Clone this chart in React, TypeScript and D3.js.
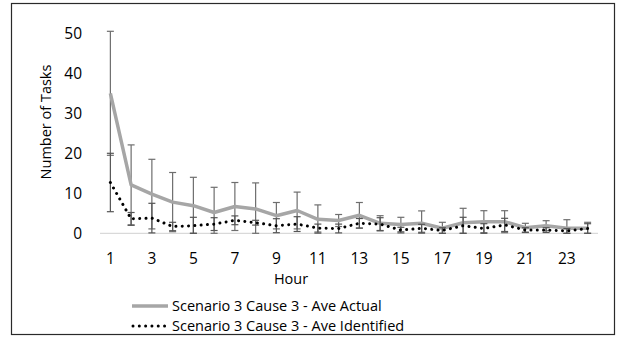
import React from "react";
import * as d3 from "d3";

// Average tasks per hour, with standard-deviation error bars
const hours: number[] = d3.range(1, 25);
const actual: number[] = [35, 12.1, 9.8, 7.8, 6.9, 5.2, 6.7, 6.1, 4.4, 5.7, 3.5, 3.2, 4.5, 2.5, 2.2, 2.5, 1.25, 2.65, 2.9, 2.9, 1.4, 1.9, 1.25, 1.25];
const actualErr: number[] = [15.5, 10, 8.7, 7.4, 7.1, 6.3, 6.0, 6.5, 3.3, 4.6, 3.6, 1.5, 3.2, 1.9, 1.8, 3.1, 1.5, 3.6, 2.75, 2.75, 1.1, 1.25, 2.15, 1.5];
const identified: number[] = [12.7, 3.6, 3.8, 1.7, 1.9, 2.3, 3.25, 2.65, 1.9, 2.3, 1.3, 1.2, 2.5, 2.3, 0.8, 1.25, 0.7, 1.9, 1.2, 2.1, 0.8, 0.8, 0.6, 1.2];
const identifiedErr: number[] = [7.3, 1.6, 3.7, 1.05, 2.1, 1.6, 1.1, 0.6, 1.75, 1.85, 1.0, 1.1, 1.2, 1.6, 0.7, 1.0, 0.7, 2.1, 1.2, 1.65, 0.6, 0.6, 0.6, 1.2];
const yTicks: number[] = [0, 10, 20, 30, 40, 50];
const xTickLabels: number[] = hours.filter((h) => h % 2 === 1);
const seriesNames: string[] = ["Scenario 3 Cause 3 - Ave Actual", "Scenario 3 Cause 3 - Ave Identified"];

const W = 617;
const H = 340;
const FONT = "'Open Sans', sans-serif";
const FS = 14.5;
const TICK_FS = 15.5;

export default function App() {
  const x = d3.scaleBand<number>().domain(hours).range([100, 598]);
  const y = d3.scaleLinear().domain([0, 50]).range([233.3, 33.3]);
  const cx = (h: number) => (x(h) as number) + x.bandwidth() / 2;

  const line = d3
    .line<number>()
    .x((_, i) => cx(hours[i]))
    .y((d) => y(d));

  const errorBars = (vals: number[], errs: number[], color: string, key: string) =>
    hours.map((h, i) => {
      const lo = Math.max(0, vals[i] - errs[i]);
      const hi = vals[i] + errs[i];
      const px = cx(h);
      return (
        <g key={key + h} stroke={color} strokeWidth={1.2}>
          <line x1={px} x2={px} y1={y(lo)} y2={y(hi)} />
          <line x1={px - 3.5} x2={px + 3.5} y1={y(hi)} y2={y(hi)} />
          <line x1={px - 3.5} x2={px + 3.5} y1={y(lo)} y2={y(lo)} />
        </g>
      );
    });

  const dotted = { strokeDasharray: "0.01 6.3", strokeLinecap: "round" as const, strokeWidth: 3 };

  return (
    <svg width={W} height={H} style={{ position: "absolute", left: 0, top: 0, background: "#fff" }} fontFamily={FONT}>
      <rect x={11.5} y={3.5} width={603} height={331} fill="#fff" stroke="#2a2a2a" strokeWidth={1.2} />

      {/* x axis line */}
      <line x1={100} x2={598} y1={y(0)} y2={y(0)} stroke="#d9d9d9" strokeWidth={1.2} />

      {/* y tick labels */}
      {yTicks.map((t) => (
        <text key={t} x={82} y={y(t)} dy="0.35em" textAnchor="end" fontSize={TICK_FS} fill="#000">
          {t}
        </text>
      ))}

      {/* x tick labels */}
      {xTickLabels.map((h) => (
        <text key={h} x={cx(h)} y={263.5} textAnchor="middle" fontSize={TICK_FS} fill="#000">
          {h}
        </text>
      ))}

      <text x={291} y={284} textAnchor="middle" fontSize={FS} fill="#000">
        Hour
      </text>
      <text transform="translate(51,122) rotate(-90)" textAnchor="middle" fontSize={FS} fill="#000">
        Number of Tasks
      </text>

      {errorBars(actual, actualErr, "#6e6e6e", "a")}
      <path d={line(actual) ?? ""} fill="none" stroke="#a6a6a6" strokeWidth={3.5} strokeLinejoin="round" />
      {errorBars(identified, identifiedErr, "#555555", "i")}
      <path d={line(identified) ?? ""} fill="none" stroke="#000" {...dotted} />

      {/* legend */}
      <line x1={132} x2={168} y1={306} y2={306} stroke="#a6a6a6" strokeWidth={3.5} />
      <text x={172} y={311} fontSize={FS} fill="#000">
        {seriesNames[0]}
      </text>
      <line x1={133} x2={168} y1={326} y2={326} stroke="#000" {...dotted} />
      <text x={172} y={331} fontSize={FS} fill="#000">
        {seriesNames[1]}
      </text>
    </svg>
  );
}
